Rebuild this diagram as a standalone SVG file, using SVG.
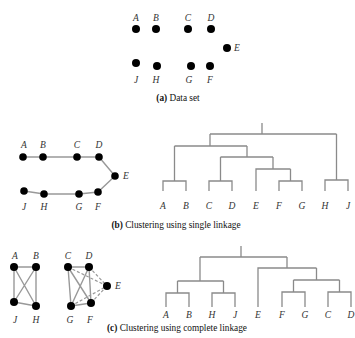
<svg xmlns="http://www.w3.org/2000/svg" width="355" height="338" viewBox="0 0 355 338">
  <style>
    .pt { fill: #000; }
    .lbl { font-family: "Liberation Serif", "Times New Roman", serif; font-style: italic; font-size: 9.5px; fill: #333; }
    .cap { font-family: "Liberation Serif", "Times New Roman", serif; font-size: 9.3px; fill: #111; }
    .capb { font-weight: bold; }
    .edge { stroke: #999; stroke-width: 1.4; fill: none; }
    .dash { stroke: #999; stroke-width: 1.2; fill: none; stroke-dasharray: 3 2; }
    .tree { stroke: #8a8a8a; stroke-width: 1.3; fill: none; }
  </style>
  <rect width="355" height="338" fill="#fff"/>

  <!-- (a) data set -->
  <g id="data-set">
    <g id="a-A"><circle class="pt" cx="136" cy="29" r="4"/><text class="lbl" x="136" y="21" text-anchor="middle">A</text></g>
    <g id="a-B"><circle class="pt" cx="156" cy="29" r="4"/><text class="lbl" x="156" y="21" text-anchor="middle">B</text></g>
    <g id="a-C"><circle class="pt" cx="188" cy="29" r="4"/><text class="lbl" x="188" y="21" text-anchor="middle">C</text></g>
    <g id="a-D"><circle class="pt" cx="211" cy="29" r="4"/><text class="lbl" x="211" y="21" text-anchor="middle">D</text></g>
    <g id="a-E"><circle class="pt" cx="227" cy="48" r="4"/><text class="lbl" x="234" y="51">E</text></g>
    <g id="a-J"><circle class="pt" cx="136" cy="63" r="4"/><text class="lbl" x="136" y="83" text-anchor="middle">J</text></g>
    <g id="a-H"><circle class="pt" cx="157" cy="66" r="4"/><text class="lbl" x="156" y="83" text-anchor="middle">H</text></g>
    <g id="a-G"><circle class="pt" cx="191" cy="66" r="4"/><text class="lbl" x="189" y="83" text-anchor="middle">G</text></g>
    <g id="a-F"><circle class="pt" cx="210" cy="66" r="4"/><text class="lbl" x="210" y="83" text-anchor="middle">F</text></g>
    <text class="cap" x="178" y="101" text-anchor="middle"><tspan class="capb">(a)</tspan> Data set</text>
  </g>

  <!-- (b) single linkage graph -->
  <g id="single-links">
    <polyline class="edge" points="23,157 43,157 77,157 99,157 115,176 98,192 79,194 44,194 24,191"/>
  </g>
  <g id="single-nodes">
    <g id="b-A"><circle class="pt" cx="23" cy="157" r="3.8"/><text class="lbl" x="24" y="148" text-anchor="middle">A</text></g>
    <g id="b-B"><circle class="pt" cx="43" cy="157" r="3.8"/><text class="lbl" x="43" y="148" text-anchor="middle">B</text></g>
    <g id="b-C"><circle class="pt" cx="77" cy="157" r="3.8"/><text class="lbl" x="77" y="148" text-anchor="middle">C</text></g>
    <g id="b-D"><circle class="pt" cx="99" cy="157" r="3.8"/><text class="lbl" x="99" y="148" text-anchor="middle">D</text></g>
    <g id="b-E"><circle class="pt" cx="115" cy="176" r="3.8"/><text class="lbl" x="123" y="179">E</text></g>
    <g id="b-J"><circle class="pt" cx="24" cy="191" r="3.8"/><text class="lbl" x="24" y="210" text-anchor="middle">J</text></g>
    <g id="b-H"><circle class="pt" cx="44" cy="194" r="3.8"/><text class="lbl" x="44" y="210" text-anchor="middle">H</text></g>
    <g id="b-G"><circle class="pt" cx="79" cy="194" r="3.8"/><text class="lbl" x="79" y="210" text-anchor="middle">G</text></g>
    <g id="b-F"><circle class="pt" cx="98" cy="192" r="3.8"/><text class="lbl" x="98" y="210" text-anchor="middle">F</text></g>
  </g>

  <!-- (b) single linkage dendrogram -->
  <g id="single-tree">
    <path class="tree" d="M163,191 V181 H186 V191 M174.5,181 V146
      M209,191 V181 H232 V191 M220.5,181 V157
      M279,191 V181 H302 V191 M290.5,181 V169
      M256,191 V169 H290.5 M273,169 V157
      M220.5,157 H273 M247,157 V146
      M174.5,146 H247 M210,146 V134
      M325,191 V180 H348 V191 M336.5,180 V134
      M210,134 H336.5 M262,134 V123"/>
    <g class="lbl" text-anchor="middle">
      <text x="163" y="209">A</text><text x="186" y="209">B</text><text x="209" y="209">C</text>
      <text x="232" y="209">D</text><text x="256" y="209">E</text><text x="279" y="209">F</text>
      <text x="302" y="209">G</text><text x="325" y="209">H</text><text x="348" y="209">J</text>
    </g>
  </g>
  <text class="cap" x="176" y="228" text-anchor="middle"><tspan class="capb">(b)</tspan> Clustering using single linkage</text>

  <!-- (c) complete linkage graph -->
  <g id="complete-links">
    <path class="edge" d="M14,267 H36 M14,267 L14,302 M36,267 L36,306 M14,302 L36,306 M14,267 L36,306 M36,267 L14,302"/>
    <path class="edge" d="M68,267 H89 M68,267 L71,306 M68,267 L91,303 M89,267 L71,306 M89,267 L91,303 M71,306 L91,303"/>
    <path class="dash" d="M68,267 L107,286 M89,267 L107,286 M71,306 L107,286 M91,303 L107,286"/>
  </g>
  <g id="complete-nodes">
    <g id="c-A"><circle class="pt" cx="14" cy="267" r="4"/><text class="lbl" x="15" y="259" text-anchor="middle">A</text></g>
    <g id="c-B"><circle class="pt" cx="36" cy="267" r="4"/><text class="lbl" x="36" y="259" text-anchor="middle">B</text></g>
    <g id="c-J"><circle class="pt" cx="14" cy="302" r="4"/><text class="lbl" x="15" y="323" text-anchor="middle">J</text></g>
    <g id="c-H"><circle class="pt" cx="36" cy="306" r="4"/><text class="lbl" x="36" y="323" text-anchor="middle">H</text></g>
    <g id="c-C"><circle class="pt" cx="68" cy="267" r="4"/><text class="lbl" x="68" y="259" text-anchor="middle">C</text></g>
    <g id="c-D"><circle class="pt" cx="89" cy="267" r="4"/><text class="lbl" x="89" y="259" text-anchor="middle">D</text></g>
    <g id="c-E"><circle class="pt" cx="107" cy="286" r="4"/><text class="lbl" x="115" y="289">E</text></g>
    <g id="c-G"><circle class="pt" cx="71" cy="306" r="4"/><text class="lbl" x="70" y="323" text-anchor="middle">G</text></g>
    <g id="c-F"><circle class="pt" cx="91" cy="303" r="4"/><text class="lbl" x="90" y="323" text-anchor="middle">F</text></g>
  </g>

  <!-- (c) complete linkage dendrogram -->
  <g id="complete-tree">
    <path class="tree" d="M166,307 V293 H189 V307 M177.5,293 V281
      M212,307 V293 H235 V307 M223.5,293 V281
      M177.5,281 H223.5 M200,281 V257
      M282,307 V292 H305 V307 M293.5,292 V280
      M328,307 V292 H351 V307 M339.5,292 V280
      M293.5,280 H339.5 M316.5,280 V268
      M258,307 V268 H316.5 M287,268 V257
      M200,257 H287 M241,257 V246"/>
    <g class="lbl" text-anchor="middle">
      <text x="166" y="318">A</text><text x="189" y="318">B</text><text x="212" y="318">H</text>
      <text x="235" y="318">J</text><text x="258" y="318">E</text><text x="282" y="318">F</text>
      <text x="305" y="318">G</text><text x="328" y="318">C</text><text x="351" y="318">D</text>
    </g>
  </g>
  <text class="cap" x="177" y="331" text-anchor="middle"><tspan class="capb">(c)</tspan> Clustering using complete linkage</text>
</svg>
